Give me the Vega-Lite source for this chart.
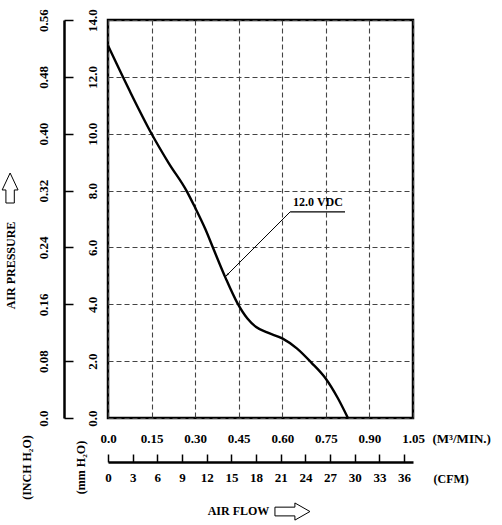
{
  "$schema": "https://vega.github.io/schema/vega-lite/v6.json",
  "width": 305,
  "height": 398,
  "autosize": {"type": "none"},
  "padding": {"left": 108, "top": 20, "right": 89, "bottom": 107},
  "background": "white",
  "config": {
    "view": {"stroke": "black", "strokeWidth": 2.5},
    "axis": {
      "labelFont": "Liberation Serif",
      "labelFontWeight": "bold",
      "labelFontSize": 13,
      "labelColor": "black",
      "titleFont": "Liberation Serif",
      "titleFontWeight": "bold",
      "titleFontSize": 12,
      "titleColor": "black",
      "labelFlush": false,
      "labelOverlap": false,
      "gridColor": "#444444",
      "gridDash": [5, 3],
      "gridWidth": 1.1,
      "gridOpacity": 1,
      "domainColor": "black",
      "tickColor": "black"
    }
  },
  "resolve": {"axis": {"x": "independent", "y": "independent"}},
  "layer": [
    {
      "data": {"values": [{"from_flow": 0.627, "from_pressure": 7.25, "to_flow": 0.403, "to_pressure": 4.96}]},
      "mark": {"type": "rule", "color": "black", "strokeWidth": 1},
      "encoding": {
        "x": {
          "field": "from_flow",
          "type": "quantitative",
          "scale": {"domain": [0, 1.05], "nice": false, "zero": false},
          "axis": {
            "orient": "bottom",
            "offset": 44,
            "zindex": 3,
            "values": [0, 0.08495, 0.1699, 0.25485, 0.339799, 0.424749, 0.509699, 0.594649, 0.679598, 0.764548, 0.849497, 0.934447, 1.019397],
            "labelExpr": "format(datum.value * 35.315, '.0f')",
            "tickSize": -8,
            "tickWidth": 1.5,
            "domainWidth": 2.5,
            "grid": false,
            "labelPadding": 17,
            "labelBaseline": "top",
            "title": "(CFM)",
            "titleX": 325,
            "titleY": 16,
            "titleAlign": "left",
            "titleBaseline": "middle"
          }
        },
        "y": {
          "field": "from_pressure",
          "type": "quantitative",
          "scale": {"domain": [0, 14], "nice": false, "zero": false},
          "axis": {
            "orient": "left",
            "offset": 44,
            "zindex": 3,
            "values": [0, 2, 4, 6, 8, 10, 12, 14],
            "labelExpr": "datum.value == 0 ? '0.0' : format(datum.value * 0.04, '.2f')",
            "domain": true,
            "ticks": true,
            "tickSize": -9,
            "tickWidth": 1.5,
            "tickColor": "black",
            "domainWidth": 2.5,
            "domainColor": "black",
            "grid": false,
            "labelAngle": -90,
            "labelAlign": "center",
            "labelBaseline": "middle",
            "labelPadding": 30,
            "title": "(INCH H₂O)",
            "titleX": -38,
            "titleY": 447,
            "titleAngle": -90,
            "titleAlign": "center",
            "titleBaseline": "middle"
          }
        },
        "x2": {"field": "to_flow"},
        "y2": {"field": "to_pressure"}
      }
    },
    {
      "data": {
        "values": [
          {"flow": 0.0, "pressure": 13.1},
          {"flow": 0.075, "pressure": 11.5},
          {"flow": 0.15, "pressure": 10.0},
          {"flow": 0.21, "pressure": 8.95},
          {"flow": 0.27, "pressure": 8.0},
          {"flow": 0.3, "pressure": 7.4},
          {"flow": 0.335, "pressure": 6.65},
          {"flow": 0.365, "pressure": 5.9},
          {"flow": 0.405, "pressure": 4.92},
          {"flow": 0.445, "pressure": 4.05},
          {"flow": 0.48, "pressure": 3.5},
          {"flow": 0.51, "pressure": 3.2},
          {"flow": 0.55, "pressure": 3.0},
          {"flow": 0.6, "pressure": 2.8},
          {"flow": 0.65, "pressure": 2.45},
          {"flow": 0.7, "pressure": 1.95},
          {"flow": 0.75, "pressure": 1.38},
          {"flow": 0.79, "pressure": 0.72},
          {"flow": 0.826, "pressure": 0.0}
        ]
      },
      "mark": {"type": "line", "interpolate": "monotone", "color": "black", "strokeWidth": 2.4},
      "encoding": {
        "x": {
          "field": "flow",
          "type": "quantitative",
          "scale": {"domain": [0, 1.05], "nice": false, "zero": false},
          "axis": {
            "orient": "bottom",
            "values": [0, 0.15, 0.3, 0.45, 0.6, 0.75, 0.9, 1.05],
            "labelExpr": "datum.value == 0 ? '0.0' : format(datum.value, '.2f')",
            "ticks": false,
            "domain": false,
            "grid": true,
            "labelPadding": 20,
            "labelBaseline": "middle",
            "title": "(M³/MIN.)",
            "titleX": 324,
            "titleY": 20,
            "titleAlign": "left",
            "titleBaseline": "middle",
            "titleFontSize": 13
          }
        },
        "y": {
          "field": "pressure",
          "type": "quantitative",
          "scale": {"domain": [0, 14], "nice": false, "zero": false},
          "axis": {
            "orient": "left",
            "values": [0, 2, 4, 6, 8, 10, 12, 14],
            "format": ".1f",
            "ticks": false,
            "domain": false,
            "grid": true,
            "labelAngle": -90,
            "labelAlign": "center",
            "labelBaseline": "middle",
            "labelPadding": 16,
            "title": "(mm H₂O)",
            "titleX": -28,
            "titleY": 447,
            "titleAngle": -90,
            "titleAlign": "center",
            "titleBaseline": "middle"
          }
        }
      }
    },
    {
      "data": {"values": [{"start": 0.627, "end": 0.816, "level": 7.25}]},
      "mark": {"type": "rule", "color": "black", "strokeWidth": 1.3},
      "encoding": {
        "x": {
          "field": "start",
          "type": "quantitative",
          "scale": {"domain": [0, 1.05], "nice": false, "zero": false},
          "axis": {
            "orient": "bottom",
            "labels": false,
            "ticks": false,
            "domain": false,
            "grid": false,
            "title": "AIR  FLOW",
            "titleX": 130,
            "titleY": 92,
            "titleAlign": "center",
            "titleBaseline": "middle"
          }
        },
        "x2": {"field": "end"},
        "y": {
          "field": "level",
          "type": "quantitative",
          "scale": {"domain": [0, 14], "nice": false, "zero": false},
          "axis": {
            "orient": "left",
            "labels": false,
            "ticks": false,
            "domain": false,
            "grid": false,
            "title": "AIR  PRESSURE",
            "titleX": -98,
            "titleY": 245,
            "titleAngle": -90,
            "titleAlign": "center",
            "titleBaseline": "middle"
          }
        }
      }
    },
    {
      "data": {"values": [{"flow": 0.411, "pressure": 5.04}]},
      "mark": {"type": "point", "shape": "wedge", "filled": true, "size": 40, "angle": 225, "color": "black", "opacity": 1},
      "encoding": {
        "x": {"field": "flow", "type": "quantitative", "scale": {"domain": [0, 1.05], "nice": false, "zero": false}, "axis": null},
        "y": {"field": "pressure", "type": "quantitative", "scale": {"domain": [0, 14], "nice": false, "zero": false}, "axis": null}
      }
    },
    {
      "data": {"values": [{"flow": 0.723, "pressure": 7.6, "label": "12.0  VDC"}]},
      "mark": {"type": "text", "font": "Liberation Serif", "fontWeight": "bold", "fontSize": 12, "color": "black", "align": "center", "baseline": "middle"},
      "encoding": {
        "x": {"field": "flow", "type": "quantitative", "scale": {"domain": [0, 1.05], "nice": false, "zero": false}, "axis": null},
        "y": {"field": "pressure", "type": "quantitative", "scale": {"domain": [0, 14], "nice": false, "zero": false}, "axis": null},
        "text": {"field": "label"}
      }
    },
    {
      "data": {"values": [{"flow": 0.635, "pressure": -3.29}]},
      "mark": {
        "type": "point",
        "shape": "M-1,-0.25 L0.14,-0.25 L0.14,-0.49 L1,0 L0.14,0.49 L0.14,0.25 L-1,0.25 Z",
        "size": 1225,
        "filled": false,
        "color": "black",
        "strokeWidth": 1,
        "opacity": 1
      },
      "encoding": {
        "x": {"field": "flow", "type": "quantitative", "scale": {"domain": [0, 1.05], "nice": false, "zero": false}, "axis": null},
        "y": {"field": "pressure", "type": "quantitative", "scale": {"domain": [0, 14], "nice": false, "zero": false}, "axis": null}
      }
    },
    {
      "data": {"values": [{"flow": -0.337, "pressure": 8.09}]},
      "mark": {
        "type": "point",
        "shape": "M0,-1 L0.53,0.13 L0.28,0.13 L0.28,1 L-0.28,1 L-0.28,0.13 L-0.53,0.13 Z",
        "size": 900,
        "filled": false,
        "color": "black",
        "strokeWidth": 1,
        "opacity": 1
      },
      "encoding": {
        "x": {"field": "flow", "type": "quantitative", "scale": {"domain": [0, 1.05], "nice": false, "zero": false}, "axis": null},
        "y": {"field": "pressure", "type": "quantitative", "scale": {"domain": [0, 14], "nice": false, "zero": false}, "axis": null}
      }
    }
  ]
}
